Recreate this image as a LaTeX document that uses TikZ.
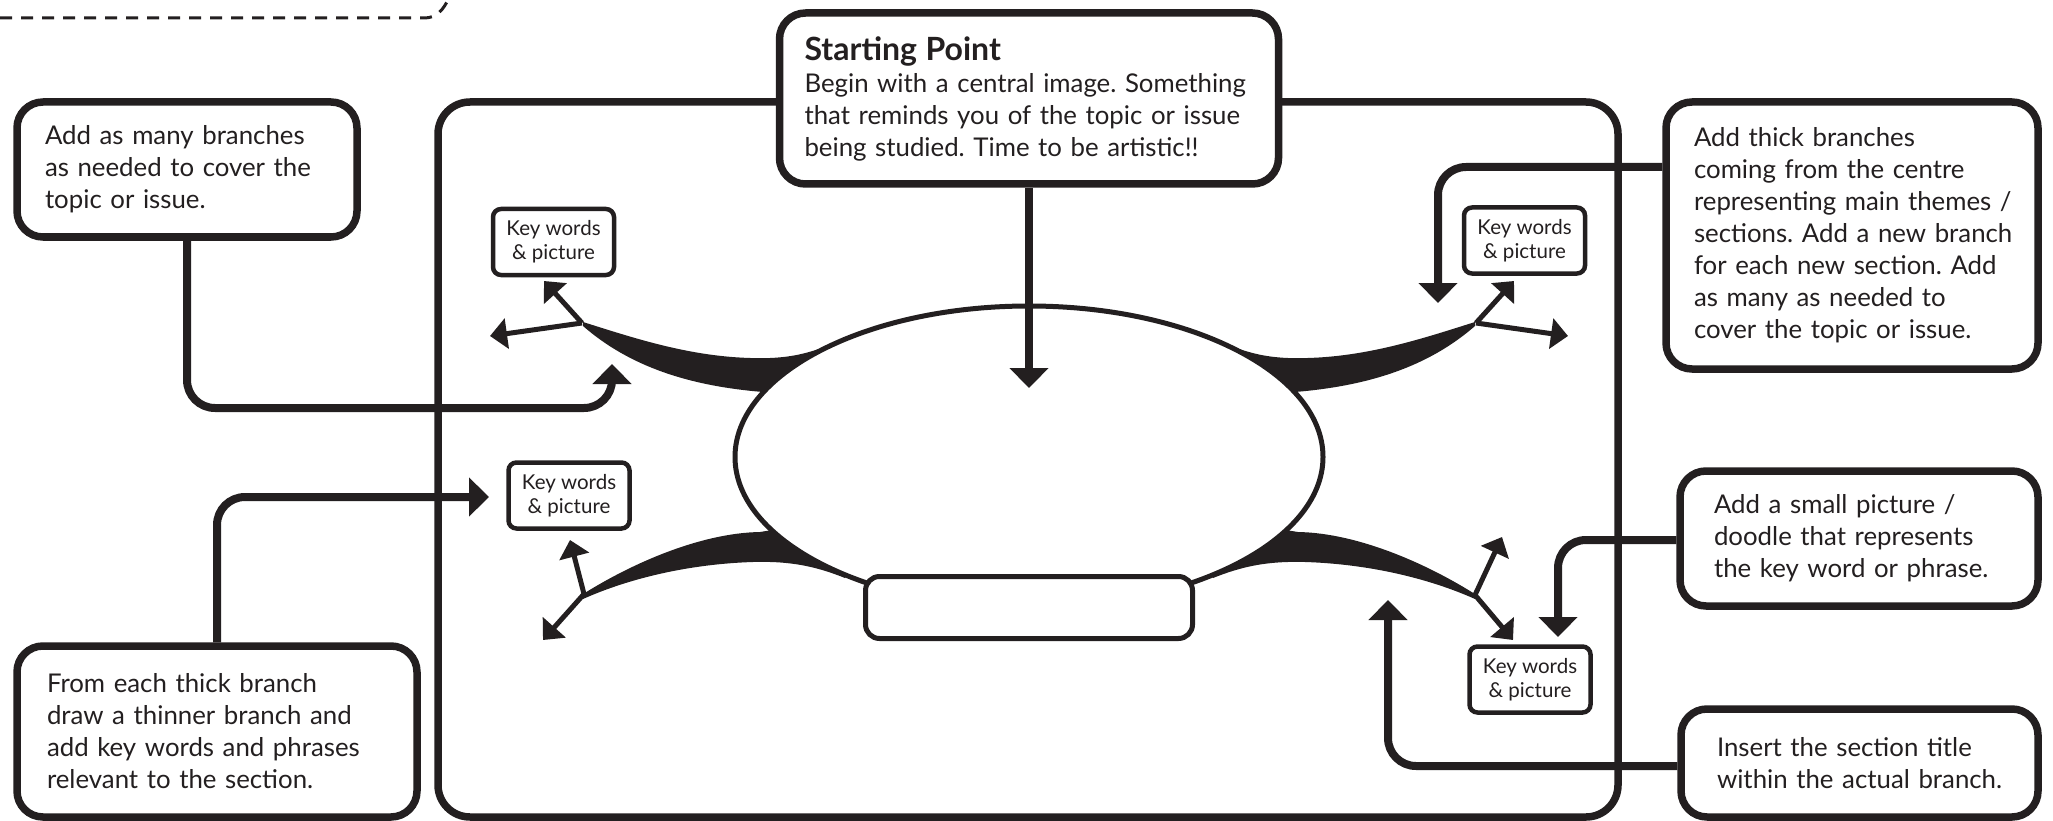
\documentclass[tikz,border=0pt]{standalone}
\usepackage{fontspec}
\setmainfont{Lato}
\usetikzlibrary{arrows.meta,shapes.geometric}
\definecolor{ink}{HTML}{231F20}
\frenchspacing
\newcommand\cbody{\fontsize{25.8}{32}\selectfont}
\newcommand\ctitle{\fontsize{32}{32}\selectfont\bfseries}
\newcommand\ckw{\fontsize{20.5}{24}\selectfont}
\newcommand\Ln[1]{\mbox{#1}}
\begin{document}
\begin{tikzpicture}[x=1pt,y=-1pt,
  callout/.style={draw=ink, line width=7.5pt, rounded corners=26pt, fill=white, text=ink,
    align=left, font=\cbody, inner ysep=0pt},
  kw/.style={draw=ink, line width=4.5pt, rounded corners=8pt, fill=white, text=ink,
    align=center, font=\ckw, minimum width=121pt, minimum height=66pt, inner sep=0pt},
  conn/.style={draw=ink, line width=8pt, -{Triangle[length=20pt,width=38pt]}},
  twig/.style={draw=ink, line width=5pt, -{Triangle[length=17pt,width=30pt]}},
  branch/.style={fill=ink},
  frame/.style={draw=ink, line width=7.5pt, rounded corners=32pt},
  guide/.style={draw=ink, line width=3pt, dash pattern=on 12pt off 9pt}]
\useasboundingbox (0,0) rectangle (2053,821);

% dashed guide at top left
\draw[guide] (0,18) -- (424,18) .. controls (437,18) and (443,10) .. (449,-2);

% main frame
\draw[frame] (438,102) rectangle (1618,817);

% callout boxes
\node[callout, minimum width=499pt, minimum height=171pt, text width=449pt, inner xsep=25pt] (start) at (1029,98.5)
  {\Ln{\ctitle Starting Point}\\\Ln{Begin with a central image. Something}\\\Ln{that reminds you of the topic or issue}\\\Ln{being studied. Time to be artistic!!}};
\node[callout, minimum width=340pt, minimum height=135pt, text width=284pt, inner xsep=28pt] (boxA) at (187,169.5)
  {\Ln{Add as many branches}\\\Ln{as needed to cover the}\\\Ln{topic or issue.}};
\node[callout, minimum width=400pt, minimum height=171pt, text width=340pt, inner xsep=30pt] (boxE) at (217,731.5)
  {\Ln{From each thick branch}\\\Ln{draw a thinner branch and}\\\Ln{add key words and phrases}\\\Ln{relevant to the section.}};
\node[callout, minimum width=372pt, minimum height=267pt, text width=316pt, inner xsep=28pt] (boxB) at (1852,235.5)
  {\Ln{Add thick branches}\\\Ln{coming from the centre}\\\Ln{representing main themes /}\\\Ln{sections. Add a new branch}\\\Ln{for each new section. Add}\\\Ln{as many as needed to}\\\Ln{cover the topic or issue.}};
\node[callout, minimum width=358pt, minimum height=135pt, text width=290pt, inner xsep=34pt] (boxC) at (1859,538.5)
  {\Ln{Add a small picture /}\\\Ln{doodle that represents}\\\Ln{the key word or phrase.}};
\node[callout, minimum width=357pt, minimum height=108pt, text width=285pt, inner xsep=36pt] (boxD) at (1859.5,763)
  {\Ln{Insert the section title}\\\Ln{within the actual branch.}};

% connector ends
\coordinate (sTip) at (1029,388);
\coordinate (aTip) at (612,364);
\coordinate (aRow) at (0,408);
\coordinate (eTip) at (489,497);
\coordinate (bTip) at (1438,303);
\coordinate (bRow) at (0,167);
\coordinate (cTip) at (1558,637);
\coordinate (cRow) at (0,540);
\coordinate (dTip) at (1388,600);
\coordinate (dRow) at (0,766);

\draw[conn, rounded corners=28pt] (boxA.south) |- (aTip |- aRow) [rounded corners=16pt] -- (aTip);
\draw[conn, rounded corners=28pt] (boxE.north) |- (eTip);
\draw[conn, rounded corners=28pt] (boxB.west |- bRow) -| (bTip);
\draw[conn, rounded corners=28pt] (boxC.west |- cRow) -| (cTip);
\draw[conn, rounded corners=28pt] (boxD.west |- dRow) -| (dTip);

% thick branches
\fill[branch] (583,322) .. controls (640,340) and (700,360) .. (770,358)
  .. controls (795,357) and (812,352) .. (832,344) -- (900,400) -- (763,392)
  .. controls (690,386) and (630,367) .. (583,326) -- cycle;
\fill[branch] (1475,322) .. controls (1418,340) and (1358,360) .. (1288,358)
  .. controls (1263,357) and (1246,352) .. (1226,344) -- (1158,400) -- (1295,392)
  .. controls (1368,386) and (1428,367) .. (1475,326) -- cycle;
\fill[branch] (580,596) .. controls (630,564) and (700,533) .. (760,532)
  -- (785,528) -- (850,560) -- (845,578)
  .. controls (815,566) and (790,561) .. (753,562)
  .. controls (690,564) and (630,578) .. (583,599) -- cycle;
\fill[branch] (1478,596) .. controls (1428,564) and (1358,533) .. (1298,532)
  -- (1273,528) -- (1208,560) -- (1213,578)
  .. controls (1243,566) and (1268,561) .. (1305,562)
  .. controls (1368,564) and (1428,578) .. (1475,599) -- cycle;

% central image and section title
\node[ellipse, draw=ink, line width=5pt, fill=white, minimum width=588pt, minimum height=302pt, inner sep=0pt] (centre) at (1029,457) {};
\node[draw=ink, line width=5pt, rounded corners=14pt, fill=white, minimum width=327pt, minimum height=62pt] (sect) at (1029,607.5) {};

% start arrow
\draw[conn] (start.south) -- (sTip);

% thinner branches
\coordinate (ulTip) at (582,323);
\coordinate (ul1) at (544,281);
\coordinate (ul2) at (490,336);
\coordinate (urTip) at (1476,323);
\coordinate (ur1) at (1514,281);
\coordinate (ur2) at (1568,336);
\coordinate (llTip) at (584,594);
\coordinate (ll1) at (570,540);
\coordinate (ll2) at (543,640);
\coordinate (lrTip) at (1475,595);
\coordinate (lr1) at (1502,537);
\coordinate (lr2) at (1513,640);
\draw[twig] (ulTip) -- (ul1);
\draw[twig] (ulTip) -- (ul2);
\draw[twig] (urTip) -- (ur1);
\draw[twig] (urTip) -- (ur2);
\draw[twig] (llTip) -- (ll1);
\draw[twig] (llTip) -- (ll2);
\draw[twig] (lrTip) -- (lr1);
\draw[twig] (lrTip) -- (lr2);

% key word boxes
\node[kw] (kw1) at (553.5,242) {Key words\\\& picture};
\node[kw] (kw2) at (1524.5,240.5) {Key words\\\& picture};
\node[kw] (kw3) at (569,495.5) {Key words\\\& picture};
\node[kw] (kw4) at (1530,679.5) {Key words\\\& picture};
\end{tikzpicture}
\end{document}
